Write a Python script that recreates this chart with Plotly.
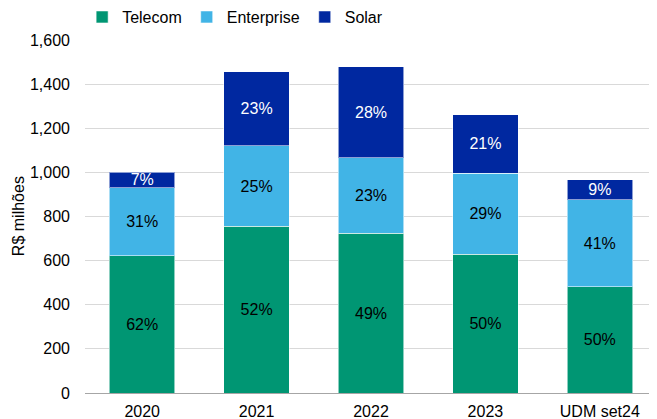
import plotly.graph_objects as go

categories = ["2020", "2021", "2022", "2023", "UDM set24"]
telecom = [622, 755, 723, 628, 482]
enterprise = [308, 365, 344, 369, 394]
solar = [71, 335, 411, 265, 90]
telecom_pct = ["62%", "52%", "49%", "50%", "50%"]
enterprise_pct = ["31%", "25%", "23%", "29%", "41%"]
solar_pct = ["7%", "23%", "28%", "21%", "9%"]
y_ticks = [0, 200, 400, 600, 800, 1000, 1200, 1400, 1600]

FONT = "Liberation Sans, Arial, sans-serif"
series = [
    ("Telecom", telecom, telecom_pct, "#009673", "#000000"),
    ("Enterprise", enterprise, enterprise_pct, "#41B4E6", "#000000"),
    ("Solar", solar, solar_pct, "#0028A0", "#FFFFFF"),
]

fig = go.Figure()
for name, vals, txt, col, tcol in series:
    fig.add_trace(go.Bar(
        name=name, x=categories, y=vals, text=txt,
        textposition="inside", insidetextanchor="middle", textangle=0,
        constraintext="none",
        textfont=dict(family=FONT, size=16, color=tcol),
        marker=dict(color=col, line=dict(color="rgba(255,255,255,0.55)", width=1)),
        width=0.573, hoverinfo="skip",
    ))

# the page body adds an 8px offset; the figure fills the rest of the 657x419 window
fig.update_layout(
    barmode="stack",
    width=649, height=411,
    margin=dict(l=77, r=0, t=32, b=25.5, autoexpand=False),
    paper_bgcolor="white", plot_bgcolor="white",
    font=dict(family=FONT, size=16, color="#000000"),
    showlegend=True,
    legend=dict(orientation="h", x=-0.005, xanchor="left", y=1.065, yanchor="middle",
                traceorder="normal", font=dict(family=FONT, size=16, color="#000000"),
                itemclick=False, itemdoubleclick=False),
    xaxis=dict(range=[-0.5, 4.5], showline=True, linecolor="#A6A6A6", linewidth=1,
               showgrid=False, ticks="", tickfont=dict(family=FONT, size=16, color="#000000"),
               ticklabelstandoff=4, automargin=False, fixedrange=True),
    yaxis=dict(range=[0, 1600], tickvals=y_ticks, tickformat=",d",
               showgrid=True, gridcolor="#D9D9D9", gridwidth=1, zeroline=False,
               showline=False, ticks="", tickfont=dict(family=FONT, size=16, color="#000000"),
               ticklabelstandoff=14, automargin=False, fixedrange=True),
    annotations=[dict(text="R$ milhões", xref="paper", yref="paper",
                      x=-0.116, y=0.5, xanchor="center", yanchor="middle",
                      textangle=-90, showarrow=False,
                      font=dict(family=FONT, size=16, color="#000000"))],
)

fig.write_html("out.html", config={"displayModeBar": False})
